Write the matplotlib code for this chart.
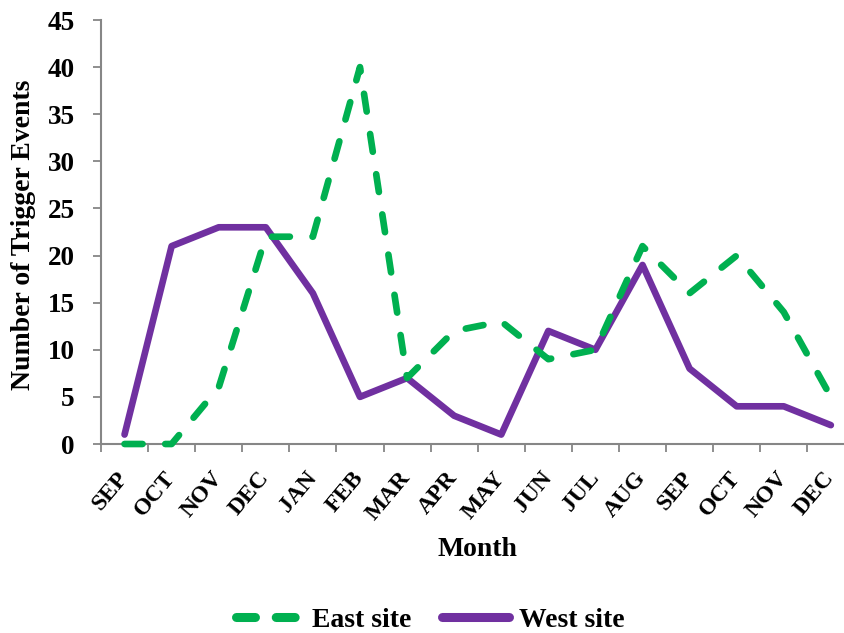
import matplotlib
matplotlib.use("Agg")
import matplotlib.pyplot as plt
from matplotlib.lines import Line2D
from matplotlib.transforms import ScaledTranslation

months = ["SEP", "OCT", "NOV", "DEC", "JAN", "FEB", "MAR", "APR",
          "MAY", "JUN", "JUL", "AUG", "SEP", "OCT", "NOV", "DEC"]
east_site = [0, 0, 6, 22, 22, 40, 7, 12, 13, 9, 10, 21, 16, 20, 14, 5]
west_site = [1, 21, 23, 23, 16, 5, 7, 3, 1, 12, 10, 19, 8, 4, 4, 2]
y_ticks = list(range(0, 46, 5))

plt.rcParams["font.family"] = ["Liberation Serif", "DejaVu Serif"]
plt.rcParams["font.weight"] = "bold"

green = "#00B050"
purple = "#7030A0"
axis_gray = "#868686"

fig = plt.figure(figsize=(8.45, 6.33), dpi=100)
ax = fig.add_axes([101 / 845, 1 - 444 / 633, (854.4 - 101) / 845, 424 / 633])

x = [i + 0.5 for i in range(len(months))]
lw = 4.8
ax.plot(x, east_site, color=green, lw=lw, dashes=(2.7, 3.4),
        dash_capstyle="round", dash_joinstyle="round", label="East site",
        clip_on=False, zorder=3)
ax.plot(x, west_site, color=purple, lw=lw, solid_capstyle="round",
        solid_joinstyle="round", label="West site", clip_on=False, zorder=2)

ax.set_xlim(0, len(months))
ax.set_ylim(0, 45)
ax.set_yticks(y_ticks)
ax.set_yticklabels([str(v) for v in y_ticks], fontsize=19.5, fontweight="bold")
ax.set_xticks(range(len(months) + 1))
ax.set_xticklabels([])
ax.set_xticks(x, minor=True)
ax.set_xticklabels(months, minor=True, rotation=50, ha="right", va="center",
                   rotation_mode="anchor", fontsize=17, fontweight="bold")
shift = ScaledTranslation(-4 / 100, 0, fig.dpi_scale_trans)
for lab in ax.get_xticklabels(minor=True):
    lab.set_transform(lab.get_transform() + shift)
ax.tick_params(axis="x", which="minor", length=0, pad=22)
ax.tick_params(axis="x", which="major", length=6, width=1.3, color=axis_gray)
ax.tick_params(axis="y", length=6, width=1.3, color=axis_gray, pad=13)

for side in ("top", "right"):
    ax.spines[side].set_visible(False)
for side in ("left", "bottom"):
    ax.spines[side].set_color(axis_gray)
    ax.spines[side].set_linewidth(1.5)

fig.text(24 / 845, 1 - 235 / 633, "Number of Trigger Events", fontsize=20,
         fontweight="bold", rotation=90, ha="center", va="center")
fig.text(477 / 845, 1 - 549 / 633, "Month", fontsize=20, fontweight="bold",
         ha="center", va="center")

handles = [
    Line2D([], [], color=green, lw=6.5, dashes=(2.1, 2.3),
           dash_capstyle="round"),
    Line2D([], [], color=purple, lw=6.5, solid_capstyle="round"),
]
fig.legend(handles, ["East site", "West site"], loc="center",
           bbox_to_anchor=(430 / 845, 1 - 620 / 633), ncol=2, frameon=False,
           prop={"size": 20, "weight": "bold"}, handlelength=2.4,
           handletextpad=0.35, columnspacing=1.1)

fig.savefig("out.png", dpi=100)
